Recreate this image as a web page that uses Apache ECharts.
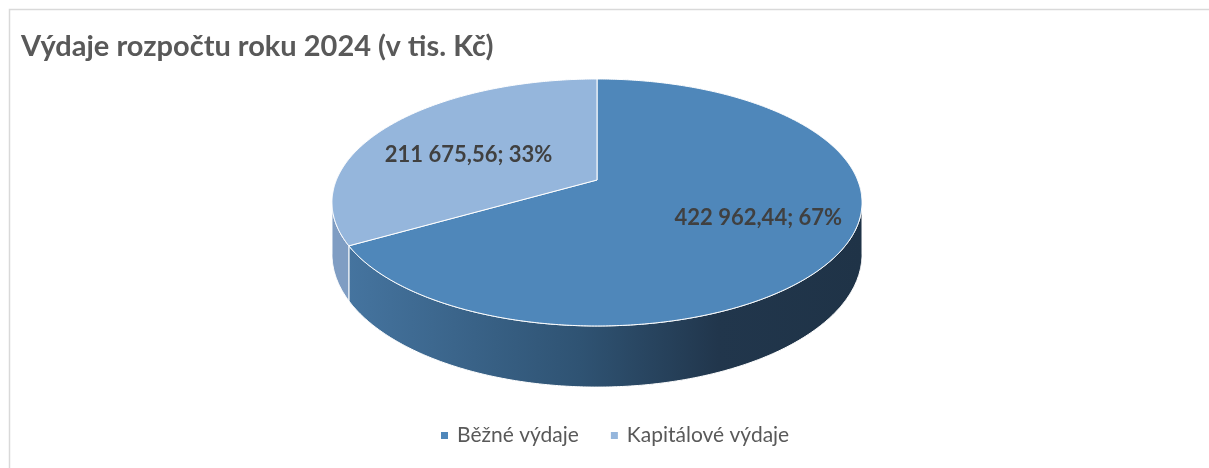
<!DOCTYPE html>
<html>
<head>
<meta charset="utf-8">
<script src="https://cdn.jsdelivr.net/npm/echarts/dist/echarts.min.js"></script>
<style>
html,body{margin:0;padding:0;background:#fff;}
#chart{width:1209px;height:468px;}
</style>
</head>
<body>
<div id="chart"></div>
<script>
// ---- data ----
const titleText = 'Výdaje rozpočtu roku 2024 (v tis. Kč)';
const categories = ['Běžné výdaje', 'Kapitálové výdaje'];
const values = [422962.44, 211675.56];
const topColors = ['#4f87ba', '#95b6dc'];
const sideColors = [
  [[0, '#45749f'], [0.45, '#2f5373'], [0.72, '#21364c'], [1, '#1f3347']],
  [[0, '#7f9dc3'], [1, '#7f9dc3']]
];

const FONT = 'Lato';
const total = values.reduce((a, b) => a + b, 0);

function fmtNum(v) {
  const parts = v.toFixed(2).split('.');
  const int = parts[0].replace(/\B(?=(\d{3})+(?!\d))/g, ' ');
  return int + ',' + parts[1];
}

// perspective 3D pie geometry (layout)
const G = { cx: 597, cy: 180, A: 260.6, B: 119.4, k: 0.182, H: 50 };
const labelShift = [[18, 0], [0, 9]];
function proj(phi, r, down) {
  const u = r * Math.sin(phi);
  const v = -r * Math.cos(phi);
  const w = 1 - G.k * v;
  return [G.cx + G.A * u / w, G.cy + G.B * v / w + (down ? G.H / w : 0)];
}
function arc(a0, a1, r, down) {
  const pts = [];
  const n = Math.max(2, Math.ceil(Math.abs(a1 - a0) / (Math.PI / 360)));
  for (let i = 0; i <= n; i++) pts.push(proj(a0 + (a1 - a0) * i / n, r, down));
  return pts;
}
const visLo = Math.acos(-G.k);            // front-visible side range
const visHi = 2 * Math.PI - Math.acos(-G.k);

function makeRender(idx) {
  return function (params, api) {
    const val = api.value(0);
    let before = 0;
    for (let i = 0; i < idx; i++) before += values[i];
    const a0 = before / total * 2 * Math.PI;
    const a1 = (before + val) / total * 2 * Math.PI;
    const children = [];
    const s0 = Math.max(a0, visLo), s1 = Math.min(a1, visHi);
    if (s1 > s0) {
      const topArc = arc(s0, s1, 1, false);
      const botArc = arc(s0, s1, 1, true).reverse();
      children.push({
        type: 'polygon',
        shape: { points: topArc.concat(botArc) },
        style: {
          fill: new echarts.graphic.LinearGradient(0, 0, 1, 0,
            sideColors[idx].map(s => ({ offset: s[0], color: s[1] }))),
          stroke: '#ffffff', lineWidth: 1
        }
      });
    }
    const topPts = [proj(0, 0, false)].concat(arc(a0, a1, 1, false));
    children.push({
      type: 'polygon',
      shape: { points: topPts },
      style: { fill: topColors[idx], stroke: '#ffffff', lineWidth: 1 }
    });
    const mid = (a0 + a1) / 2;
    const lp = proj(mid, 0.6, false);
    children.push({
      type: 'text',
      x: lp[0] + labelShift[idx][0], y: lp[1] + labelShift[idx][1],
      style: {
        text: fmtNum(val) + '; ' + Math.round(val / total * 100) + '%',
        fill: '#404040',
        font: 'bold 22px ' + FONT,
        align: 'center', verticalAlign: 'middle'
      }
    });
    return { type: 'group', children: children };
  };
}

const chart = echarts.init(document.getElementById('chart'), null, { renderer: 'canvas' });
chart.setOption({
  backgroundColor: '#ffffff',
  animation: false,
  title: {
    text: titleText, left: 16, top: 27,
    textStyle: { fontFamily: FONT, fontSize: 29, fontWeight: 'bold', color: '#595959' }
  },
  legend: {
    data: categories,
    left: 436, bottom: 17,
    icon: 'rect', itemWidth: 7, itemHeight: 7, itemGap: 32,
    textStyle: { fontFamily: FONT, fontSize: 21, color: '#595959', padding: [0, 0, 0, 4] }
  },
  graphic: [{
    type: 'rect', silent: true, z: -10,
    shape: { x: 9.5, y: 9.5, width: 1220, height: 480 },
    style: { fill: 'none', stroke: '#d9d9d9', lineWidth: 1.5 }
  }],
  series: categories.map((name, i) => ({
    type: 'custom',
    name: name,
    coordinateSystem: 'none',
    itemStyle: { color: topColors[i] },
    data: [[values[i]]],
    renderItem: makeRender(i)
  }))
});
</script>
</body>
</html>
